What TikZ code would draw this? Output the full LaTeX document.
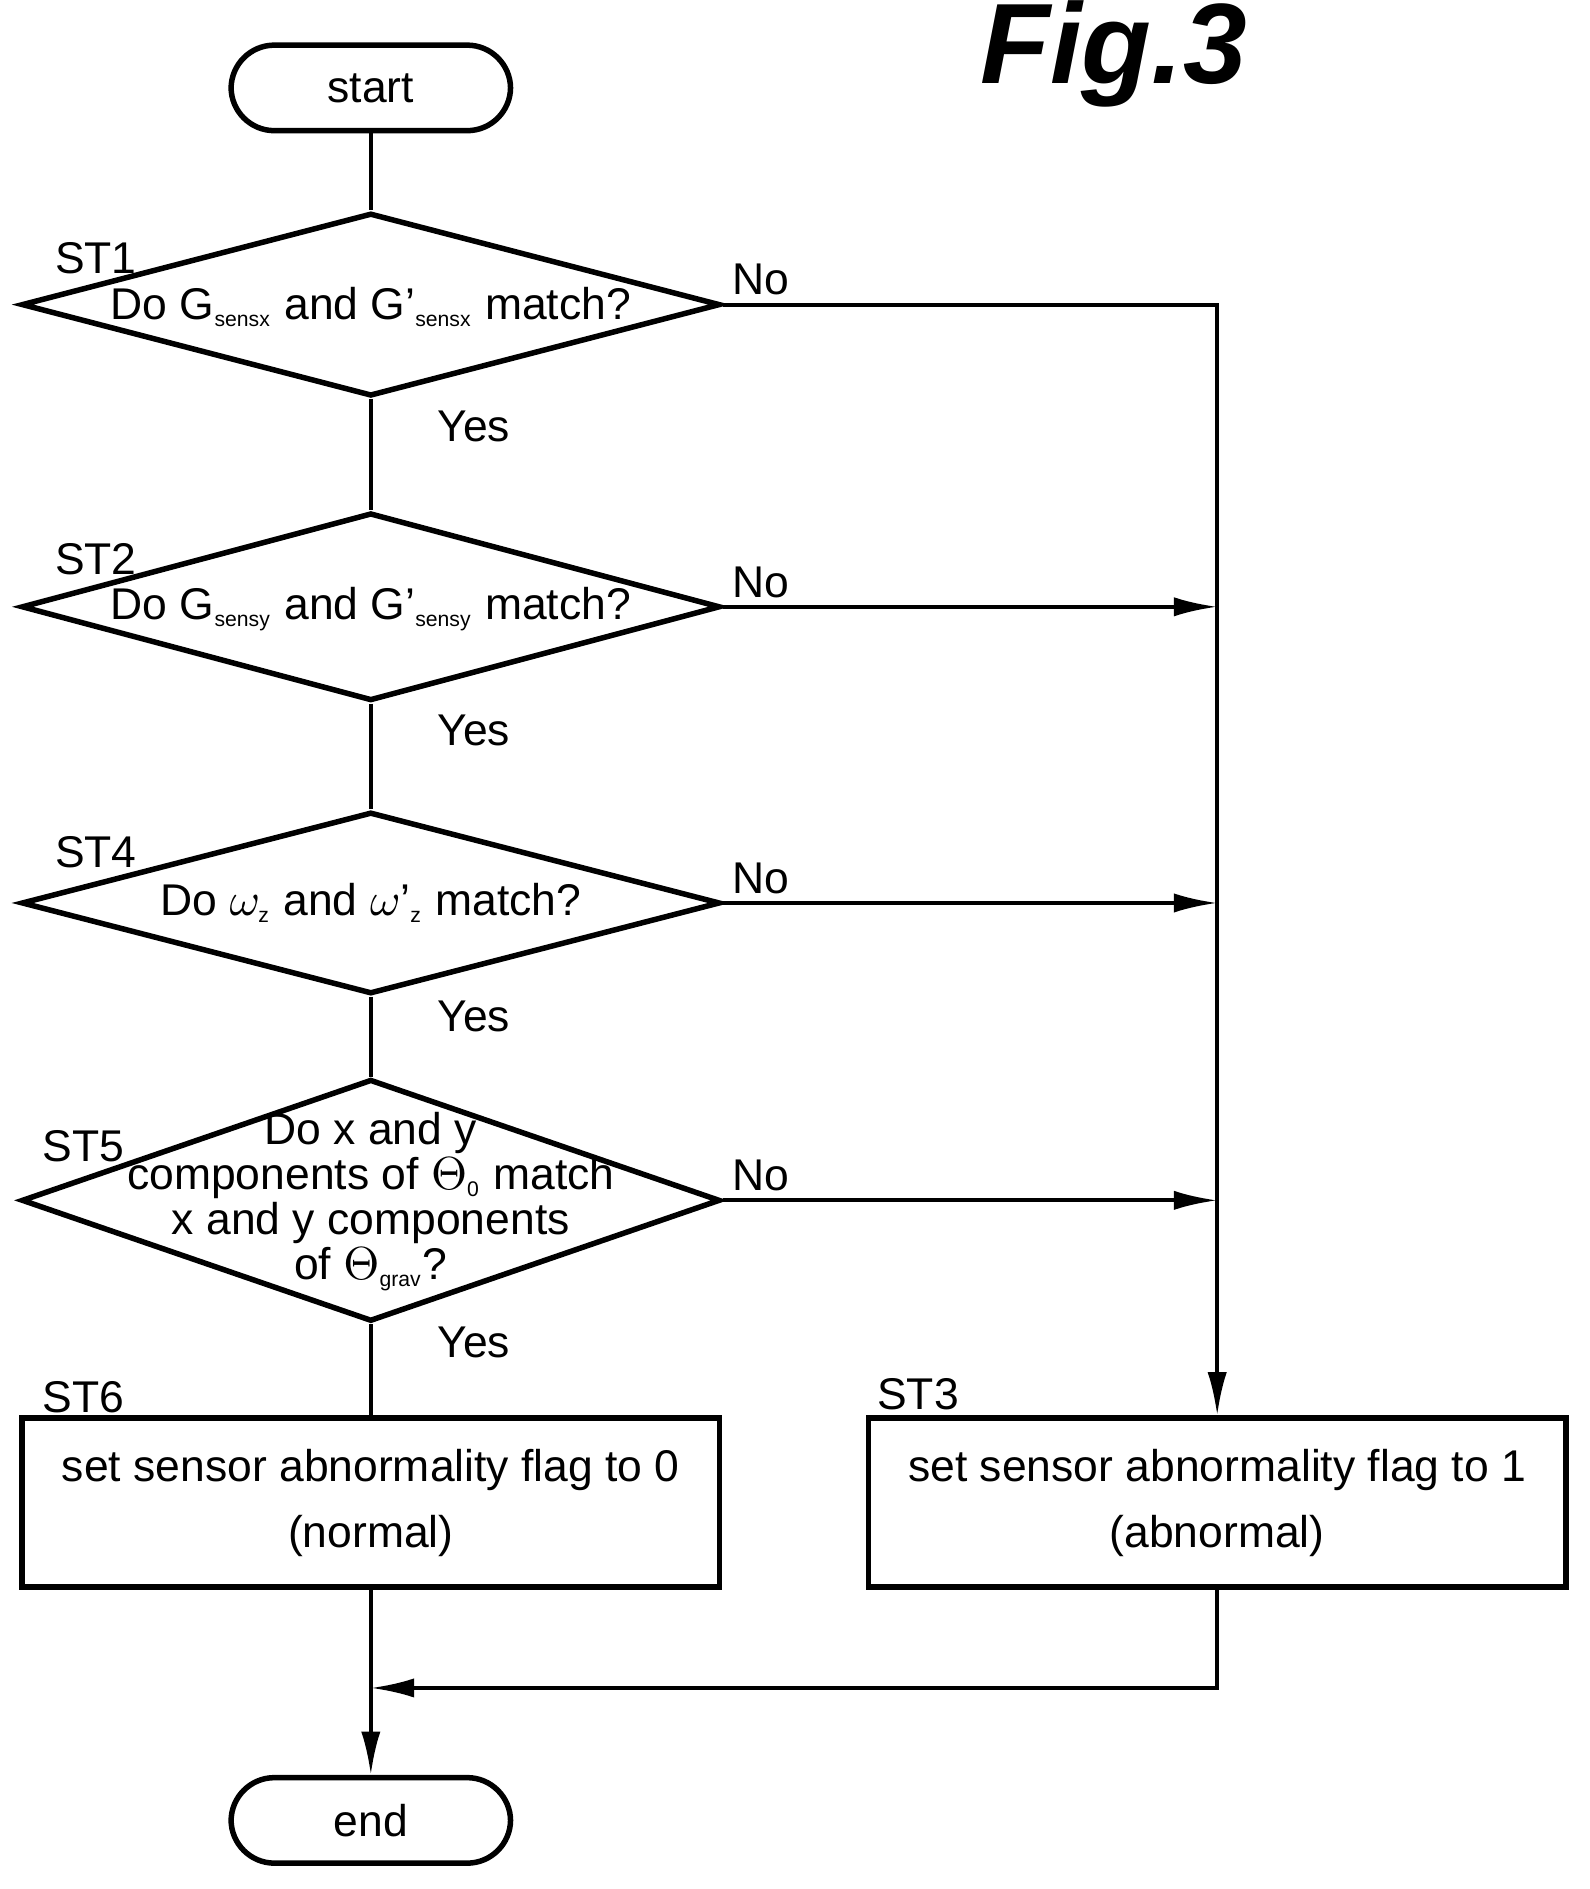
\documentclass[tikz,border=0pt]{standalone}
\usepackage{amsmath}
\usepackage{fontspec}
\setmainfont{Liberation Sans}
\usetikzlibrary{arrows.meta, positioning, shapes.geometric}

\begin{document}
\begin{tikzpicture}[
    x=0.01cm, y=-0.01cm,
    every node/.style={font=\fontsize{10.5}{10.6}\selectfont},
    arrow/.style={-{Latex[length=3.6mm, width=1.6mm]}, line width=0.9pt},
    line/.style={line width=0.9pt},
    term/.style={draw, line width=1.3pt, rounded corners=0.36cm, minimum width=2.32cm, minimum height=0.71cm},
    decision/.style={draw, diamond, line width=1.3pt, inner sep=0pt, minimum width=5.8cm, minimum height=#1},
    process/.style={draw, line width=1.3pt, minimum width=5.79cm, minimum height=1.4cm},
    steplabel/.style={anchor=south west, inner sep=0pt}
]
\useasboundingbox (0,0) rectangle (1320,1569);

% === TITLE ===
\node (fig) at (925,45) {\fontsize{27}{27}\selectfont\bfseries\itshape Fig.3};

% === NODES ===
\node[term] (start) at (308,73) {start};

\node[decision=1.52cm] (st1) at (308,253) {};
\node (st1text) at (308,255) {Do G$_{\text{\tiny sensx}}$ and G'$_{\text{\tiny sensx}}$ match?};
\node[steplabel] at (45,228) {ST1};

\node[decision=1.56cm] (st2) at (308,504) {};
\node (st2text) at (308,506) {Do G$_{\text{\tiny sensy}}$ and G'$_{\text{\tiny sensy}}$ match?};
\node[steplabel] at (45,478) {ST2};

\node[decision=1.51cm] (st4) at (308,750) {};
\node (st4text) at (308,750) {Do $\omega_{\text{\tiny z}}$ and $\omega$'$_{\text{\tiny z}}$ match?};
\node[steplabel] at (45,722) {ST4};

\node[decision=2.01cm] (st5) at (308,997) {};
\node[align=center] (st5text) at (308,998) {Do x and y\\components of $\Theta_{\text{\tiny 0}}$ match\\x and y components\\of $\Theta_{\text{\tiny grav}}$?};
\node[steplabel] at (35,966) {ST5};

\node[process] (st6) at (308,1248) {};
\node[align=center] (st6text) at (308,1248) {set sensor abnormality flag to 0\\[5pt](normal)};
\node[steplabel] at (35,1174) {ST6};

\node[process] (st3) at (1011,1248) {};
\node[align=center] (st3text) at (1011,1248) {set sensor abnormality flag to 1\\[5pt](abnormal)};
\node[steplabel] at (728,1172) {ST3};

\node[term] (end) at (308,1512) {end};

% === CONNECTORS ===
\coordinate (c1) at (1011,253);
\coordinate (c2) at (1011,504);
\coordinate (c4) at (1011,750);
\coordinate (c5) at (1011,997);
\coordinate (merge) at (308,1402);

\draw[line] (start) -- (st1);
\draw[line] (st1) -- node[pos=0.25, right=12pt] {Yes} (st2);
\draw[line] (st2) -- node[pos=0.25, right=12pt] {Yes} (st4);
\draw[line] (st4) -- node[pos=0.25, right=12pt] {Yes} (st5);
\draw[line] (st5) -- node[pos=0.2, right=12pt] {Yes} (st6);

\draw[arrow] (st1.east) -- (c1) -- (st3.north);
\node[anchor=south west, inner sep=2pt] at (st1.east) {No};
\draw[arrow] (st2.east) -- (c2);
\node[anchor=south west, inner sep=2pt] at (st2.east) {No};
\draw[arrow] (st4.east) -- (c4);
\node[anchor=south west, inner sep=2pt] at (st4.east) {No};
\draw[arrow] (st5.east) -- (c5);
\node[anchor=south west, inner sep=2pt] at (st5.east) {No};

\draw[arrow] (st3.south) |- (merge);
\draw[arrow] (st6.south) -- (end.north);

\end{tikzpicture}
\end{document}
